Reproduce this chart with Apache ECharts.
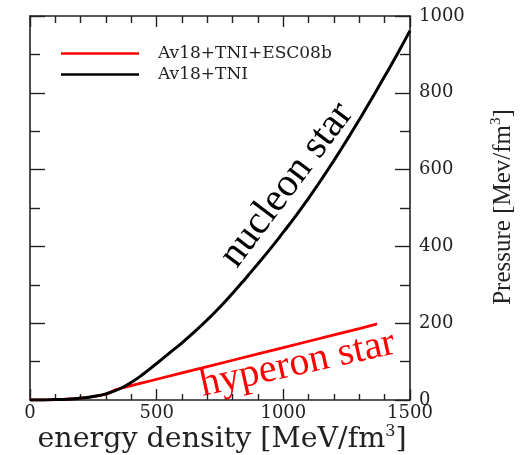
<!DOCTYPE html>
<html>
<head>
<meta charset="utf-8">
<script src="https://cdn.jsdelivr.net/npm/echarts@6/dist/echarts.min.js"></script>
<style>
html,body{margin:0;padding:0;background:#fff;}
#chart{width:522px;height:455px;}
</style>
</head>
<body>
<div id="chart"></div>
<script>
// ---- data ----
const nucleonEnergy = [0,50,100,150,200,250,300,350,400,450,500,550,600,650,700,750,800,850,900,950,1000,1050,1100,1150,1200,1250,1300,1350,1400,1450,1500];
const nucleonPressure = [0,0,1,2,5,9,16,28,46,69,95,122,149,178,209,242,278,316,355,395,437,480,526,574,624,676,730,786,843,901,962];
const hyperonEnergy = [0,100,200,300,340,500,700,900,1100,1300,1370];
const hyperonPressure = [0,1,5,15,27,54,87,120,153,186,198];
const seriesNames = ['Av18+TNI+ESC08b','Av18+TNI'];
const seriesColors = ['#ff0000','#000000'];
const xTicks = [0,500,1000,1500];
const yTicks = [0,200,400,600,800,1000];
const annotations = [
  {text:'nucleon star', e:1014, p:560, angle:53, color:'#000'},
  {text:'hyperon star', e:1056, p:93, angle:12.5, color:'#ff0000'}
];

const pairs = (xs, ys) => xs.map((x,i)=>[x, ys[i]]);
const axisColor = '#222';
const serif = 'DejaVu Serif';
const plain = v => String(v);

const chart = echarts.init(document.getElementById('chart'), null, {renderer:'canvas'});

function axisCommon(extra){
  return Object.assign({
    type:'value',
    splitLine:{show:false},
    axisLine:{show:true, onZero:false, lineStyle:{color:axisColor, width:1.6}},
  }, extra);
}
const tick = (len) => ({show:true, inside:true, length:len, lineStyle:{color:axisColor, width:1.4}});
const minor = (n, len) => ({show:true, splitNumber:n, length:len, lineStyle:{color:axisColor, width:1.4}});

const option = {
  animation:false,
  backgroundColor:'#fff',
  grid:{left:30, top:16, width:380, height:384, containLabel:false},
  legend:{
    data:seriesNames.map(n=>({name:n, icon:'rect'})),
    orient:'vertical',
    left:56, top:40,
    itemWidth:78, itemHeight:2.5, itemGap:4,
    textStyle:{fontFamily:serif, fontSize:17, lineHeight:16, color:axisColor, padding:[0,0,0,14]}
  },
  xAxis:[
    axisCommon({position:'bottom', min:xTicks[0], max:xTicks[xTicks.length-1], interval:500,
      axisTick:tick(11), minorTick:minor(5,6),
      axisLabel:{show:true, formatter:plain, fontFamily:serif, fontSize:18, color:axisColor, margin:4}}),
    axisCommon({position:'top', min:xTicks[0], max:xTicks[xTicks.length-1], interval:500,
      axisTick:tick(11), minorTick:minor(5,7), axisLabel:{show:false}})
  ],
  yAxis:[
    axisCommon({position:'right', min:yTicks[0], max:yTicks[yTicks.length-1], interval:200,
      axisTick:tick(15), minorTick:minor(2,10),
      axisLabel:{show:true, formatter:plain, fontFamily:serif, fontSize:18, color:axisColor, margin:9, align:'left'}}),
    axisCommon({position:'left', min:yTicks[0], max:yTicks[yTicks.length-1], interval:200,
      axisTick:tick(15), minorTick:minor(2,10), axisLabel:{show:false}})
  ],
  series:[
    {name:seriesNames[0], type:'line', xAxisIndex:0, yAxisIndex:0, data:pairs(hyperonEnergy, hyperonPressure),
     symbol:'none', smooth:0.3, lineStyle:{color:seriesColors[0], width:2.8}, itemStyle:{color:seriesColors[0]}, z:2},
    {name:seriesNames[1], type:'line', xAxisIndex:0, yAxisIndex:0, data:pairs(nucleonEnergy, nucleonPressure),
     symbol:'none', smooth:0.5, lineStyle:{color:seriesColors[1], width:3}, itemStyle:{color:seriesColors[1]}, z:3}
  ]
};
chart.setOption(option);

// axis titles and curve annotations
const gEls = [];
gEls.push({type:'text', x:222, y:440, style:{
  text:'energy density [MeV/fm{s|3}]', align:'center', verticalAlign:'middle',
  fontFamily:serif, fontSize:28.5, fill:axisColor,
  rich:{s:{fontSize:16, fontFamily:serif, padding:[0,0,16,0]}}
}});
gEls.push({type:'text', x:503, y:207, rotation:Math.PI/2, style:{
  text:'Pressure [Mev/fm{s|3}]', align:'center', verticalAlign:'middle',
  fontFamily:'Liberation Serif', fontSize:25, fill:axisColor,
  rich:{s:{fontSize:15, fontFamily:'Liberation Serif', padding:[0,0,14,0]}}
}});
annotations.forEach(a=>{
  const pt = chart.convertToPixel({xAxisIndex:0, yAxisIndex:0}, [a.e, a.p]);
  gEls.push({type:'text', x:pt[0], y:pt[1], rotation:a.angle*Math.PI/180, style:{
    text:a.text, align:'center', verticalAlign:'middle',
    fontFamily:'Liberation Serif', fontSize:40, fill:a.color
  }});
});
chart.setOption({graphic:{elements:gEls}});
</script>
</body>
</html>
